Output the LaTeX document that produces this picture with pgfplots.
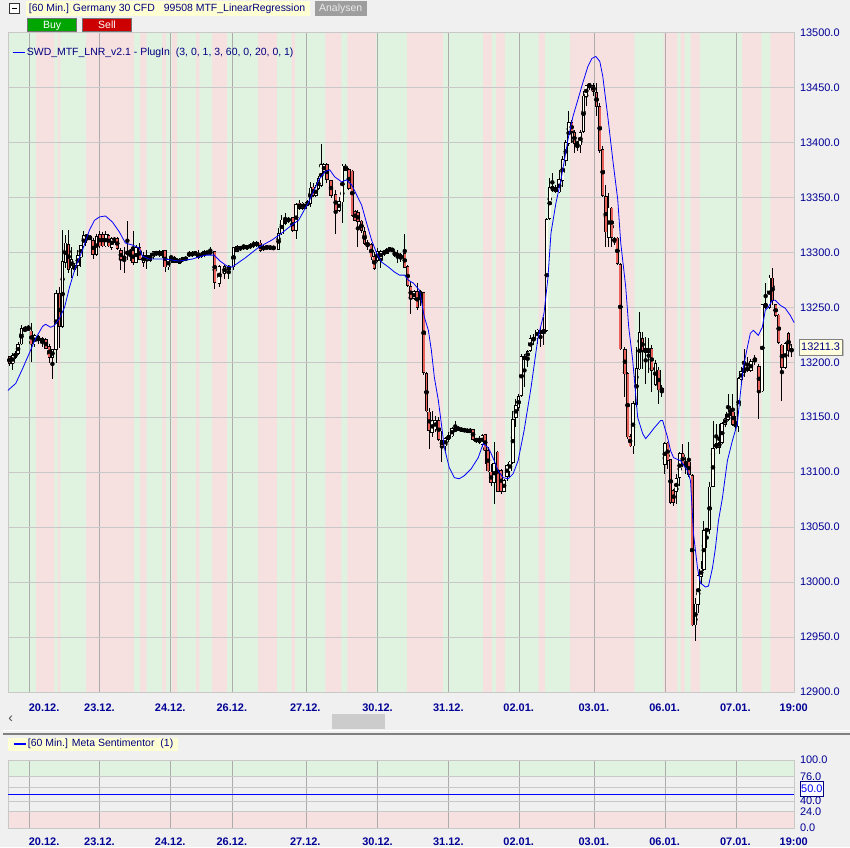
\documentclass[border=0pt]{standalone}
\usepackage{pgfplots}
\pgfplotsset{compat=1.18}
\usepackage{pgfplotstable}
\usepackage{fontspec}
\setmainfont{Liberation Sans}
\definecolor{bgc}{RGB}{240,240,240}
\definecolor{stripeG}{RGB}{224,242,224}
\definecolor{stripeR}{RGB}{246,224,224}
\definecolor{navy}{RGB}{0,0,128}
\definecolor{tickc}{RGB}{0,0,150}
\definecolor{candleR}{RGB}{232,96,90}
\definecolor{candleW}{RGB}{255,255,242}
\definecolor{gridh}{RGB}{200,200,200}
\definecolor{gridv}{RGB}{172,172,172}
\definecolor{hdrY}{RGB}{255,255,212}
\definecolor{pureblue}{RGB}{0,0,255}
\definecolor{buyG}{RGB}{0,165,0}
\definecolor{sellR}{RGB}{204,0,0}
\newcommand\fs{\fontsize{11}{13}\selectfont}
\newcommand\hs{\fontsize{10.5}{12}\selectfont}

\pgfplotstableread{
x o h l c
6.7 13205 13206 13197 13199
10 13199 13208 13193 13206
12.7 13205 13210 13203 13208
15.3 13208 13218 13207 13216
18.7 13217 13234 13216 13230
22.3 13229 13233 13228 13230
25.7 13231 13234 13229 13230
28.7 13228 13236 13200 13217
32 13217 13226 13214 13224
35.5 13220 13225 13217 13223
39.5 13218 13223 13214 13221
43.3 13220 13222 13212 13213
46.7 13214 13217 13199 13205
49.8 13205 13212 13185 13211
53.5 13212 13266 13199 13262
57 13262 13268 13213 13233
60 13233 13320 13231 13291
62.9 13291 13316 13286 13308
66 13307 13320 13281 13285
68.9 13286 13305 13277 13293
71.8 13285 13290 13282 13288
75.3 13288 13302 13278 13297
78.3 13296 13307 13287 13306
81.3 13306 13319 13305 13315
84.3 13314 13317 13308 13315
87.5 13314 13316 13311 13312
90.7 13310 13313 13294 13298
94 13298 13317 13297 13314
97.3 13316 13319 13304 13306
100.5 13316 13318 13305 13306
103.5 13306 13319 13305 13316
106.3 13315 13317 13305 13306
109.2 13305 13314 13302 13312
112 13311 13314 13308 13312
114.8 13312 13314 13302 13304
118.5 13301 13304 13284 13294
121.8 13294 13305 13281 13296
125 13299 13328 13293 13300
128 13300 13303 13292 13301
130.7 13301 13319 13288 13291
133.9 13291 13307 13290 13304
137.3 13304 13308 13293 13294
141.2 13291 13300 13287 13297
144.6 13293 13302 13285 13297
147.8 13297 13299 13291 13293
151 13296 13301 13294 13300
154 13299 13301 13297 13299.5
157 13297 13302 13296 13300.5
160 13297 13302 13295 13300
162.9 13301 13302 13282 13287
166 13287 13294 13284 13293
169 13295 13297 13290 13295.5
171.8 13295 13297 13290 13291
174.7 13291 13295 13290 13293.5
177.6 13293.5 13295 13289 13290
180.5 13293 13296 13291 13294.5
183.5 13294 13296 13292 13294.3
187 13297 13301 13296 13299
190 13297 13301 13296 13299.5
193 13299 13300.5 13297.5 13299.3
196 13299 13302 13294 13295.3
199 13296 13300.5 13294.5 13299
202 13297.5 13302 13296 13300.5
205 13299.5 13301 13298 13299.7
208.2 13299 13305 13298 13300.5
212.6 13300 13301 13267 13273
217.3 13272 13288 13268 13287
222.5 13281 13288 13276 13287
226.8 13285 13288 13276 13287
231.5 13287 13305 13284 13304
235 13301 13307 13300 13305
238.3 13302.5 13306 13301 13305
241.7 13305 13307 13302 13305.3
245 13303.5 13307 13302 13305.5
248.3 13304.5 13308 13303 13306.5
251.7 13307 13310 13304 13307.3
255 13306.5 13310 13305 13308.5
258.3 13308 13311 13300 13302
261.7 13302.5 13306.5 13301 13305
265 13304.5 13306 13302.5 13304.8
268.3 13303.5 13306.5 13302 13305
271.7 13304 13305.5 13302 13304.2
276.7 13302.6 13322 13302 13317
280 13317 13334 13316 13329
283.3 13326.5 13335.5 13325 13329.5
286.7 13329.4 13332 13327 13329.7
290.8 13331 13332.5 13318.5 13320
294.3 13320 13344.5 13312.5 13343
297.5 13344.5 13347.5 13338.5 13340
300.3 13340 13346 13338.5 13344.5
303.2 13340 13346 13339 13344.5
306 13343 13347.5 13342 13346
308.7 13344.5 13364 13341.5 13358
311.3 13359 13363 13350.5 13352
314.1 13352 13361 13350.5 13358
316.8 13358 13369 13356.5 13366.5
319.5 13361 13398 13359.5 13379.5
322.2 13373.5 13381 13372 13379.5
325.1 13379.5 13381 13363 13366.5
329.3 13365 13366 13349 13352
334 13352 13356.5 13317 13338.5
337.3 13338.5 13350.5 13337 13346
340.7 13346 13380.5 13326.5 13378
344 13375 13380.5 13373.5 13378
347.3 13375 13376.5 13356.5 13358.3
350.7 13373.5 13375 13332.5 13334
353.5 13337 13338.5 13328 13329.5
356.3 13335.5 13338.5 13305 13328
359.8 13328 13329.5 13317.5 13320
362.9 13318.5 13323 13306.5 13308
366 13306.5 13311 13302 13308
369.8 13306.5 13308 13293 13296
372.8 13296 13300.5 13284 13285.5
376 13293 13303.5 13291.3 13300.5
379.3 13294.4 13302 13285.3 13300.5
382.5 13300.5 13302 13297 13299
385.4 13299.5 13303.5 13298 13302
388.2 13302.6 13305 13300.5 13302.9
390.9 13302 13304 13300 13302.3
393.3 13299.5 13301.4 13296 13297.4
396.2 13299 13302 13290 13296
399.3 13297.4 13299 13291.3 13294.4
403.3 13298.4 13317 13285.3 13286.8
406.2 13286.8 13288.3 13268.5 13270
409.3 13268.5 13273 13244.3 13258
412.6 13258 13265.5 13256.4 13264
415.9 13264 13271.6 13247.3 13250.3
419 13259.4 13266 13251 13264
422.3 13263 13264 13188 13191
425.1 13189.6 13191 13154.5 13156
427.8 13154.5 13158 13121 13138
430.8 13136.3 13156 13131.7 13147
434 13139.7 13151.5 13136.3 13147
437.3 13147 13150 13128.7 13130.3
440.6 13128.7 13137.8 13109 13124.2
444 13124.2 13131.7 13119.6 13130.3
447.3 13130.3 13136.3 13127.2 13133.3
450.7 13133.3 13141 13131.7 13139.4
454 13137.8 13147 13136.3 13139.4
457 13139.4 13141.5 13137.8 13139.7
460 13138.5 13140.5 13137 13138.8
463 13138 13140 13136.5 13138.5
466 13137.5 13139.5 13136 13137.8
468.8 13136.5 13140 13135.5 13138.5
471.8 13138.5 13139.4 13128.7 13130.3
475 13128.1 13131.5 13127 13130.3
478.2 13130.3 13133.3 13125.7 13127.2
481.1 13125.7 13134.8 13122.6 13133.3
484 13133.9 13134.8 13107.5 13120.2
486.8 13119.6 13122.6 13099.8 13101.4
489.9 13099.8 13107.5 13087.7 13090.7
493 13090.7 13127.2 13071 13107.5
496.6 13118.1 13119.6 13081.6 13083.1
500 13101.4 13102.9 13080.1 13083.1
502.9 13083.1 13093.8 13081.6 13092.2
505.9 13096.8 13107.5 13092.2 13105.9
508.8 13101.4 13110.5 13095.3 13109
511.8 13109 13156.1 13107.5 13147.6
514.8 13150 13166.8 13140.9 13160.6
517.5 13159.1 13171.3 13156.1 13168.2
520.3 13169.8 13207.8 13168.2 13204.7
523.4 13203.3 13207.8 13177.3 13204.7
526.6 13204.7 13210.8 13195.6 13209.3
529.3 13210.8 13224.5 13209.3 13221.5
532.5 13219.9 13226 13215.4 13222.4
536 13222.4 13230.6 13216.9 13229
539.4 13229 13232.1 13213.8 13226
542.7 13226 13241.2 13215.4 13229
545.8 13229 13330.9 13227.5 13329.4
548.7 13330.9 13367.4 13329.4 13358.3
551.4 13356.7 13371.9 13355.2 13359.7
554.5 13358.3 13361.3 13353.7 13355.2
558.2 13355.2 13375 13353.7 13365.8
561.7 13365.8 13387.1 13359.7 13384.1
564.9 13384.1 13402.3 13378 13399.3
567.8 13399.3 13428.1 13396.2 13417.6
570.7 13417.6 13420.6 13399.3 13409.9
573.5 13408.4 13411.4 13390.2 13399.3
576.5 13399.3 13401 13392 13396.2
579.5 13397.8 13411.4 13390.2 13408.4
582.6 13409.9 13446.4 13408.4 13441.8
585.4 13441.8 13452.5 13432.7 13451.6
588.5 13451 13454 13447.9 13452.5
592.5 13451.6 13454 13441.8 13446.4
595.7 13444.9 13454 13423.6 13432.7
598.9 13432.1 13435.8 13390.2 13393.2
601.9 13393.2 13396.2 13350.6 13352.2
605 13350.6 13361.3 13305 13318.7
608.1 13314.1 13353.7 13305 13340
611 13340 13341.5 13305 13314.1
613.8 13312.7 13314 13307 13309.6
616.6 13312.7 13314.1 13288.3 13289.9
619.6 13288.3 13289.9 13210.8 13212.4
624.2 13211.4 13213.8 13168.2 13189.6
626.9 13189.6 13191 13130.3 13132.4
629.5 13132.4 13134.8 13122.6 13124.2
632.3 13124.2 13165.2 13116.6 13162.2
635.8 13162.2 13213.8 13159.1 13194.1
638.8 13194.1 13245.7 13192.6 13226.6
641.8 13221.5 13227.5 13194.1 13210.8
645 13212.4 13223 13180.4 13209.3
648 13209.3 13222 13190 13212.7
651.1 13212.4 13215.4 13172.8 13192.6
654.8 13180.4 13201.7 13178 13198.7
658.2 13192.6 13195.6 13162.2 13175
661.2 13175.9 13178.9 13168.2 13174.3
664.2 13107.5 13127.2 13098.4 13125.7
667 13126.3 13127.2 13102.9 13111.1
670 13111.1 13112 13071 13072.5
672.8 13083.1 13084.7 13069.4 13072.5
675.8 13083.1 13098.4 13071 13093.8
679.1 13095.3 13118.1 13087.7 13116.6
682.1 13116.6 13125.7 13104.4 13107.5
685.4 13107.5 13113.5 13098.4 13109
688.4 13109 13127.2 13095.3 13098.4
691.7 13096.8 13098.4 12960 12961.5
694.9 12961.5 12985.8 12946.3 12979.8
697.8 12979.8 13007.1 12972.1 13005.6
700.6 13005.6 13019.3 12998 13011.7
703.4 13011.7 13055.8 13010.2 13046.6
706.2 13046.6 13049.7 13031.4 13048.2
709.1 13048.2 13090.7 13043.6 13086.1
712.5 13087.7 13147 13086.1 13121.1
715.8 13122.6 13144 13121.1 13125.7
718.8 13123 13144 13116.6 13127
721.7 13127.2 13145.4 13125.7 13144
724.8 13144 13153.1 13140.9 13148.5
727.6 13148.5 13171.3 13147 13154.5
730.1 13153 13160 13151 13154.5
732.5 13154.5 13171.3 13142.4 13144
735.3 13144 13151.5 13137.8 13141.5
738.3 13142.4 13186.5 13136.3 13185
740.8 13185 13195.6 13181.9 13191
743.6 13191 13212.4 13186.5 13194.1
746.8 13193.5 13204.7 13191 13194
750.6 13192.6 13203.2 13191 13200.2
754.5 13201.7 13206.2 13197.1 13203.2
758.6 13195.6 13198.7 13148.5 13174.3
762 13174.3 13253.4 13172.8 13251.8
765.4 13250.3 13271.6 13248.8 13253.4
769.1 13250.3 13279.2 13248.8 13276.2
772.3 13276.2 13285.3 13251.8 13256.4
775.4 13251.8 13253.4 13241.2 13242.7
778.5 13242.7 13244.3 13216.9 13218.4
781.7 13215.4 13216.9 13165.2 13195.6
785 13195.6 13218.4 13194.1 13216.9
788.3 13226 13227.5 13204.7 13210.8
791.3 13210.8 13216.9 13204.7 13211.3
}\candles

\pgfplotstableread{
x v
5 12800
5 13500
33.3 12800
51.7 13500
55 12800
57.7 13500
83.3 12800
131.7 13500
137.7 12800
144 13500
160 12800
163.7 13500
169.7 12800
175 13500
194 12800
197.3 13500
210 12800
225 13500
256 12800
275.3 13500
289.7 12800
293.3 13500
323.7 12800
339.7 13500
345.7 12800
374.3 13500
405.3 12800
441.7 13500
481.7 12800
491 13500
495 12800
503.7 13500
537.7 12800
544 13500
569.3 12800
633.7 13500
663 12800
676.7 13500
680 12800
684 13500
690 12800
699.3 13500
741.7 12800
761 13500
770 12800
794.3 12800
}\stripes

\pgfplotsset{
  chartbase/.style={
    set layers, clip mode=individual,
    scale only axis, width=789.3pt,
    xmin=5, xmax=794.3,
    axis line style={draw=gridh},
    yticklabel pos=right,
    scaled y ticks=false,
    ymajorgrids, y grid style={gridh, line width=0.8pt},
    xtick={26.3,97.3,168.3,230.7,304.3,376.3,447.3,518.3,593.3,664.7,735.7},
    xticklabels={},
    xmajorgrids, x grid style={gridv, line width=0.8pt},
    extra x ticks={41.5,97,168,229.8,303.5,376,447,517.6,593,664,735,793.5},
    extra x tick labels={20.12.,23.12.,24.12.,26.12.,27.12.,30.12.,31.12.,02.01.,03.01.,06.01.,07.01.,19:00},
    extra x tick style={grid=none},
    major tick length=0pt,
    tick style={draw=none},
    /pgf/number format/assume math mode=true,
    yticklabel style={font=\fs, text=tickc, anchor=west, xshift=2pt,
      /pgf/number format/.cd, fixed, fixed zerofill, precision=1, 1000 sep={}},
    xticklabel style={font=\bfseries\fs, text=tickc, inner sep=1pt, yshift=-10.5pt},
  }
}

\begin{document}
\pagecolor{bgc}
\begin{tikzpicture}[x=1pt,y=1pt]

% ---------------- main price panel
\begin{axis}[chartbase,
  at={(5,141)}, anchor=south west, height=662pt,
  ymin=12900, ymax=13500,
  axis background/.style={fill=stripeR},
  ytick={12900,12950,...,13500},
]
\addplot[const plot, fill=stripeG, draw=none, on layer=axis background, forget plot]
  table[x=x, y=v]{\stripes};
% wicks
\addplot[only marks, mark=none, forget plot,
  error bars/.cd, y dir=both, y explicit, error mark=none,
  error bar style={draw=black, line width=0.9pt}]
  table[x=x, y expr={\thisrow{l}+(\thisrow{h}-\thisrow{l})/2},
        y error expr={(\thisrow{h}-\thisrow{l})/2}]{\candles};
% body outlines
\addplot[only marks, mark=none, forget plot,
  error bars/.cd, y dir=both, y explicit, error mark=none,
  error bar style={draw=black, line width=3.4pt}]
  table[x=x, y expr={\thisrow{o}+(\thisrow{c}-\thisrow{o})/2},
        y error expr={abs(\thisrow{c}-\thisrow{o})/2+0.7}]{\candles};
% white bodies
\addplot[only marks, mark=none, forget plot,
  restrict expr to domain={\thisrow{c}-\thisrow{o}}{0:10000},
  error bars/.cd, y dir=both, y explicit, error mark=none,
  error bar style={draw=candleW, line width=1.8pt}]
  table[x=x, y expr={\thisrow{o}+(\thisrow{c}-\thisrow{o})/2},
        y error expr={abs(\thisrow{c}-\thisrow{o})/2}]{\candles};
% red bodies
\addplot[only marks, mark=none, forget plot,
  restrict expr to domain={\thisrow{o}-\thisrow{c}}{0.01:10000},
  error bars/.cd, y dir=both, y explicit, error mark=none,
  error bar style={draw=candleR, line width=1.8pt}]
  table[x=x, y expr={\thisrow{o}+(\thisrow{c}-\thisrow{o})/2},
        y error expr={abs(\thisrow{c}-\thisrow{o})/2}]{\candles};
% regression line
\addplot[pureblue, line width=0.8pt] coordinates {
(5,13174.3) (13,13180.7) (20,13194.4) (27,13209) (33,13221.7) (40,13232.7) (43,13234.5)
(48,13231.8) (52,13233.6) (57,13240) (62,13250) (67,13268.3) (73,13286.5) (80,13302)
(87,13320.2) (92,13329) (97,13332.1) (103,13333) (110,13327.5) (117,13318.4) (123,13308.4)
(130,13306.6) (137,13303.8) (140,13296.5) (147,13293.8) (163,13293.8) (177,13292) (190,13293.8)
(203,13297.4) (212,13297.4) (218,13292) (225,13287.4) (230,13286.5) (243,13294.7) (257,13304.7)
(270,13311.1) (280,13317.5) (290,13324.8) (297,13329.4) (307,13345.8) (317,13365.8) (323,13373.1)
(328,13375) (333,13368.6) (340,13364) (345,13365.8) (350,13361.3) (355,13352.2) (360,13343)
(365,13326.6) (370,13311.1) (375,13299.3) (380,13291.1) (387,13286.5) (393,13282) (398,13279.2)
(403,13279.2) (407,13274.6) (412,13271.9) (418,13265.5) (423,13240.9) (427,13229) (430,13210.8)
(433,13186.2) (437,13165.2) (440,13144.2) (443,13122.3) (448,13104.1) (453,13095) (458,13094.1)
(463,13096.8) (470,13103.2) (477,13113.2) (482,13126) (487,13122.3) (490,13116.9) (493,13110.5)
(497,13101.4) (502,13095) (507,13094.1) (512,13098.6) (517,13110.5) (523,13137.8) (530,13177)
(537,13222.7) (543,13244.5) (547,13277.4) (550,13317.5) (555,13344.9) (560,13365.8) (567,13402.3)
(572,13423.3) (577,13438.8) (582,13454.3) (587,13468.9) (591,13476.2) (595,13478) (599,13473.5)
(602,13459.8) (607,13423.3) (612,13384.1) (617,13347.6) (620,13308.4) (625,13268.3) (628,13231.8)
(632,13201.7) (637,13149.7) (642,13135.1) (645,13130.5) (650,13136) (653,13139.7) (660,13147)
(662,13147) (667,13131.5) (670,13119.6) (673,13113.2) (680,13110.5) (687,13101.4) (690,13092.2)
(693,13043.9) (697,13012.9) (700,12999.2) (705,12995.6) (708,12996.5) (712,13012.9) (715,13031.1)
(718,13055.8) (722,13076.7) (727,13110.5) (732,13128.7) (737,13144.2) (740,13171.6) (743,13195.3)
(747,13213.5) (750,13226.3) (753,13229) (758,13224.5) (762,13231.8) (765,13247.3) (768,13250)
(772,13256.4) (775,13256.4) (780,13251.8) (785,13249.1) (790,13242.7) (794,13236)
};
\end{axis}

% ---------------- lower sentiment panel
\begin{axis}[chartbase,
  at={(5,28)}, anchor=south west, height=68.3pt,
  ymin=0, ymax=100,
  axis background/.style={fill=bgc},
  ytick={0,24,40,50,60,76,100},
  xticklabel style={yshift=1.5pt},
]
\addplot[fill=stripeG, draw=none, on layer=axis background, forget plot]
  coordinates {(5,76) (794.3,76) (794.3,100) (5,100) (5,76)};
\addplot[fill=stripeR, draw=none, on layer=axis background, forget plot]
  coordinates {(5,0) (794.3,0) (794.3,24) (5,24) (5,0)};
\addplot[pureblue, line width=0.9pt] coordinates {(5,50) (794.3,50)};
\end{axis}

% ---------------- header and decorations
\fill[hdrY] (23,834) rectangle (308,849);
\draw[black!80, line width=0.6pt, fill=white] (7,836.5) rectangle (17,846.5);
\draw[black, line width=0.8pt] (9.3,841.5) -- (14.7,841.5);
\node[anchor=west, text=navy, font=\hs, inner sep=0] at (26,841.5)
  {[60 Min.] Germany 30 CFD\hspace{9pt}99508 MTF\_LinearRegression};
\fill[black!38] (313,834) rectangle (365,849);
\node[text=black!8, font=\hs, inner sep=0] at (339,841.5) {Analysen};
\draw[fill=buyG, draw=black!55] (25,819) rectangle (74,832);
\node[text=white, font=\hs, inner sep=0, anchor=base] at (49.5,821.8) {Buy};
\draw[fill=sellR, draw=black!55] (80,819) rectangle (129,832);
\node[text=white, font=\hs, inner sep=0, anchor=base] at (104.5,821.8) {Sell};
\draw[pureblue, line width=1.3pt] (10,797) -- (22,797);
\node[anchor=west, text=navy, font=\hs, inner sep=0] at (24,797)
  {SWD\_MTF\_LNR\_v2.1 - PlugIn\hspace{6pt}(3, 0, 1, 3, 60, 0, 20, 0, 1)};

% price tag
\fill[black!25] (800.5,492.5) rectangle (843.5,508.5);
\draw[fill={rgb,255:red,255;green,255;blue,222}, draw=black!50] (799,494) rectangle (842,510);
\node[text=navy, font=\fs, inner sep=0] at (820.5,502) {13211.3};

% scrollbar
\node[text=black!70, font=\fontsize{14}{14}\selectfont, inner sep=0] at (8,128) {‹};
\fill[black!20] (330,119) rectangle (383,134);
\draw[white, line width=1pt] (0,117) -- (850,117);
\draw[black!50, line width=1.5pt] (0,113.5) -- (850,113.5);

% lower header
\fill[hdrY] (5,97) rectangle (176,110);
\draw[pureblue, line width=1.3pt] (11,103.5) -- (23,103.5);
\node[anchor=west, text=navy, font=\hs, inner sep=0] at (25,103.5)
  {[60 Min.] Meta Sentimentor\hspace{6pt}(1)};

% 50.0 box
\draw[fill=white, draw=navy] (800.5,51) rectangle (823,66);
\node[text=pureblue, font=\fs, inner sep=0] at (811.7,58.5) {50.0};

\pgfresetboundingbox
\path[use as bounding box] (0,0) rectangle (850,850);
\end{tikzpicture}
\end{document}
